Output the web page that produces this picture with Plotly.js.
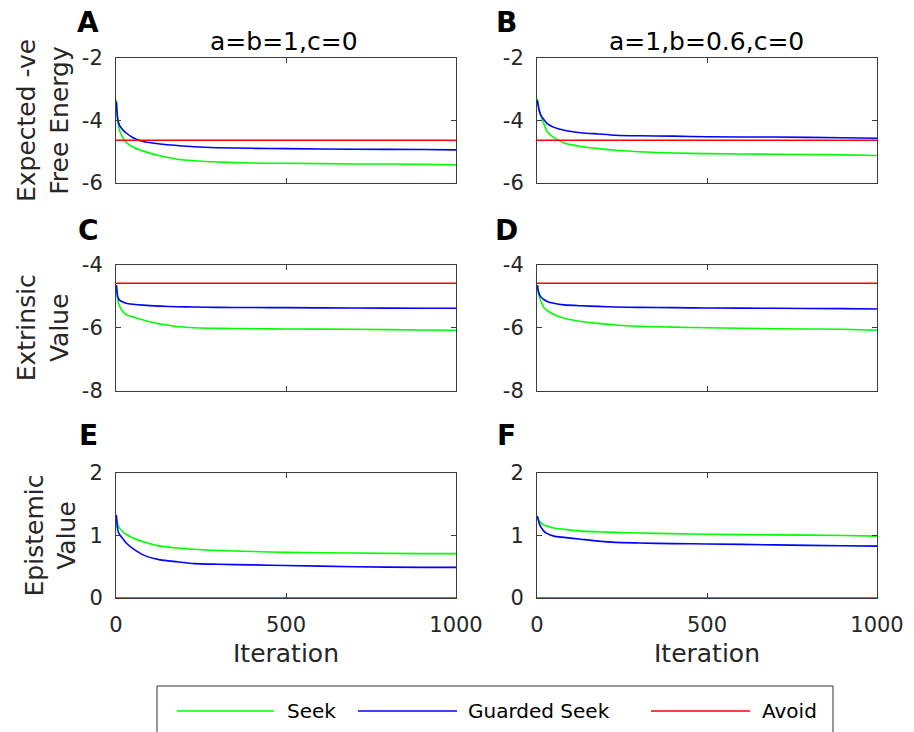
<!DOCTYPE html>
<html><head><meta charset="utf-8">
<script src="https://cdn.plot.ly/plotly-3.0.1.min.js"></script>
<style>html,body{margin:0;padding:0;background:#fff}#chart{width:914px;height:732px}</style>
</head><body><div id="chart"></div>
<script>
// ---- data ----
const iterations = [1, 5, 10, 20, 30, 50, 80, 130, 180, 230, 300, 400, 500, 700, 900, 1000];
const avoidIter = [0, 1000];

// Row 1: Expected -ve Free Energy
const seekA    = [-3.34, -4.00, -4.30, -4.55, -4.70, -4.85, -4.98, -5.13, -5.24, -5.29, -5.33, -5.36, -5.37, -5.39, -5.40, -5.42];
const guardedA = [-3.40, -3.95, -4.15, -4.30, -4.40, -4.55, -4.67, -4.75, -4.80, -4.84, -4.87, -4.89, -4.90, -4.92, -4.93, -4.94];
const avoidA   = [-4.63, -4.63];
const seekB    = [-3.30, -3.60, -3.80, -4.10, -4.35, -4.55, -4.72, -4.83, -4.90, -4.95, -5.00, -5.04, -5.06, -5.08, -5.10, -5.12];
const guardedB = [-3.36, -3.60, -3.80, -3.97, -4.10, -4.22, -4.31, -4.39, -4.43, -4.47, -4.49, -4.50, -4.52, -4.53, -4.55, -4.57];
const avoidB   = [-4.63, -4.63];

// Row 2: Extrinsic Value
const seekC    = [-4.64, -5.11, -5.30, -5.48, -5.58, -5.66, -5.75, -5.88, -5.96, -6.00, -6.02, -6.03, -6.04, -6.05, -6.07, -6.08];
const guardedC = [-4.64, -5.00, -5.12, -5.18, -5.22, -5.25, -5.28, -5.31, -5.33, -5.34, -5.35, -5.355, -5.36, -5.37, -5.38, -5.38];
const avoidC   = [-4.58, -4.58];
const seekD    = [-4.64, -4.95, -5.11, -5.35, -5.45, -5.58, -5.70, -5.80, -5.86, -5.91, -5.95, -5.98, -6.00, -6.03, -6.05, -6.08];
const guardedD = [-4.64, -4.88, -5.00, -5.10, -5.16, -5.22, -5.27, -5.30, -5.32, -5.34, -5.35, -5.36, -5.37, -5.38, -5.39, -5.40];
const avoidD   = [-4.58, -4.58];

// Row 3: Epistemic Value
const seekE    = [1.30, 1.18, 1.12, 1.06, 1.02, 0.96, 0.90, 0.83, 0.80, 0.78, 0.76, 0.745, 0.73, 0.72, 0.71, 0.71];
const guardedE = [1.33, 1.09, 1.02, 0.95, 0.88, 0.79, 0.69, 0.61, 0.58, 0.55, 0.54, 0.53, 0.52, 0.50, 0.49, 0.49];
const avoidE   = [0, 0];
const seekF    = [1.31, 1.25, 1.21, 1.17, 1.15, 1.12, 1.10, 1.07, 1.06, 1.05, 1.04, 1.03, 1.02, 1.01, 1.00, 0.99];
const guardedF = [1.31, 1.22, 1.15, 1.07, 1.03, 0.99, 0.97, 0.94, 0.91, 0.89, 0.88, 0.87, 0.865, 0.85, 0.835, 0.83];
const avoidF   = [0, 0];

// tick labels
const xTickVals = [0, 500, 1000];
const xTickText = ['0', '500', '1000'];
const yTickVals1 = [-6, -4, -2];
const yTickText1 = ['-6', '-4', '-2'];
const yTickVals2 = [-8, -6, -4];
const yTickText2 = ['-8', '-6', '-4'];
const yTickVals3 = [0, 1, 2];
const yTickText3 = ['0', '1', '2'];

const seriesNames = ['Seek', 'Guarded Seek', 'Avoid'];
const columnTitles = ['a=b=1,c=0', 'a=1,b=0.6,c=0'];
const rowTitles = ['Expected -ve<br>Free Energy', 'Extrinsic<br>Value', 'Epistemic<br>Value'];
const panelLetters = ['A', 'B', 'C', 'D', 'E', 'F'];

// ---- styling ----
const W = 914, H = 732;
const FONT = 'DejaVu Sans, sans-serif';
const GREEN = '#00ff00', BLUE = '#0000ff', RED = '#ff0000';
const AX = '#3c3c3c';
const px = v => v / W;
const py = v => 1 - v / H;

const colDom = [[px(116), px(456)], [px(537), px(877)]];
const rowDom = [[py(183), py(58)], [py(390.5), py(265)], [py(598), py(473)]];

const panels = [
  [seekA, guardedA, avoidA], [seekB, guardedB, avoidB],
  [seekC, guardedC, avoidC], [seekD, guardedD, avoidD],
  [seekE, guardedE, avoidE], [seekF, guardedF, avoidF]
];
const yRanges = [[-6, -2], [-8, -4], [0, 2]];
const yTicks = [[yTickVals1, yTickText1], [yTickVals2, yTickText2], [yTickVals3, yTickText3]];

const traces = [];
const layout = {
  width: W, height: H,
  margin: {l: 0, r: 0, t: 0, b: 0},
  paper_bgcolor: '#fff', plot_bgcolor: '#fff',
  showlegend: false,
  font: {family: FONT, color: '#262626'},
  annotations: [], shapes: []
};

panels.forEach((p, i) => {
  const row = Math.floor(i / 2), col = i % 2;
  const n = i + 1;
  const xa = n === 1 ? 'x' : 'x' + n, ya = n === 1 ? 'y' : 'y' + n;
  const cols = [GREEN, BLUE, RED];
  p.forEach((vals, k) => {
    traces.push({
      type: 'scatter', mode: 'lines',
      x: k === 2 ? avoidIter : iterations, y: vals,
      xaxis: xa, yaxis: ya, name: seriesNames[k],
      line: {color: cols[k], width: 1.6, shape: 'spline', smoothing: 0.6},
      hoverinfo: 'skip'
    });
  });
  const common = {
    showline: true, linecolor: AX, linewidth: 1, mirror: 'ticks',
    ticks: 'inside', ticklen: 5, tickwidth: 1, tickcolor: AX,
    showgrid: false, zeroline: false, fixedrange: true,
    tickfont: {family: FONT, size: 21, color: '#262626'}
  };
  layout['xaxis' + (n === 1 ? '' : n)] = Object.assign({}, common, {
    domain: colDom[col], range: [0, 1000], anchor: ya,
    tickvals: xTickVals, ticktext: xTickText,
    showticklabels: row === 2, ticklabelstandoff: 8,
    title: row === 2 ? {text: 'Iteration', font: {family: FONT, size: 25, color: '#262626'}, standoff: 8} : {text: ''}
  });
  layout['yaxis' + (n === 1 ? '' : n)] = Object.assign({}, common, {
    domain: rowDom[row], range: yRanges[row], anchor: xa,
    tickvals: yTicks[row][0], ticktext: yTicks[row][1],
    ticklabelstandoff: 8,
    title: col === 0 ? {text: rowTitles[row], font: {family: FONT, size: 25, color: '#262626'}, standoff: 6} : {text: ''}
  });
  // panel letter
  const lx = col === 0 ? 88 : 507;
  const ly = [22, 230, 435][row];
  layout.annotations.push({
    xref: 'paper', yref: 'paper', x: px(lx), y: py(ly), xanchor: 'center', yanchor: 'middle',
    text: '<b>' + panelLetters[i] + '</b>', showarrow: false,
    font: {family: FONT, size: 28, color: '#000'}
  });
});

// column titles
[[284, 0], [706, 1]].forEach(([cx, c]) => {
  layout.annotations.push({
    xref: 'paper', yref: 'paper', x: px(cx), y: py(42), xanchor: 'center', yanchor: 'middle',
    text: columnTitles[c], showarrow: false,
    font: {family: FONT, size: 25, color: '#000'}
  });
});

// legend (drawn as a MATLAB-style box)
layout.shapes.push({
  type: 'rect', xref: 'paper', yref: 'paper',
  x0: px(157), x1: px(833), y0: py(686), y1: py(745),
  line: {color: '#333', width: 1}, fillcolor: 'rgba(0,0,0,0)'
});
const legItems = [
  {x0: 177, x1: 274, tx: 285, color: GREEN},
  {x0: 358, x1: 457, tx: 466, color: BLUE},
  {x0: 651, x1: 750, tx: 760, color: RED}
];
legItems.forEach((it, k) => {
  layout.shapes.push({
    type: 'line', xref: 'paper', yref: 'paper',
    x0: px(it.x0), x1: px(it.x1), y0: py(711), y1: py(711),
    line: {color: it.color, width: 1.5}
  });
  layout.annotations.push({
    xref: 'paper', yref: 'paper', x: px(it.tx), y: py(711), xanchor: 'left', yanchor: 'middle',
    text: seriesNames[k], showarrow: false,
    font: {family: FONT, size: 20, color: '#000'}
  });
});

Plotly.newPlot('chart', traces, layout, {displayModeBar: false, staticPlot: true});
</script>
</body></html>
